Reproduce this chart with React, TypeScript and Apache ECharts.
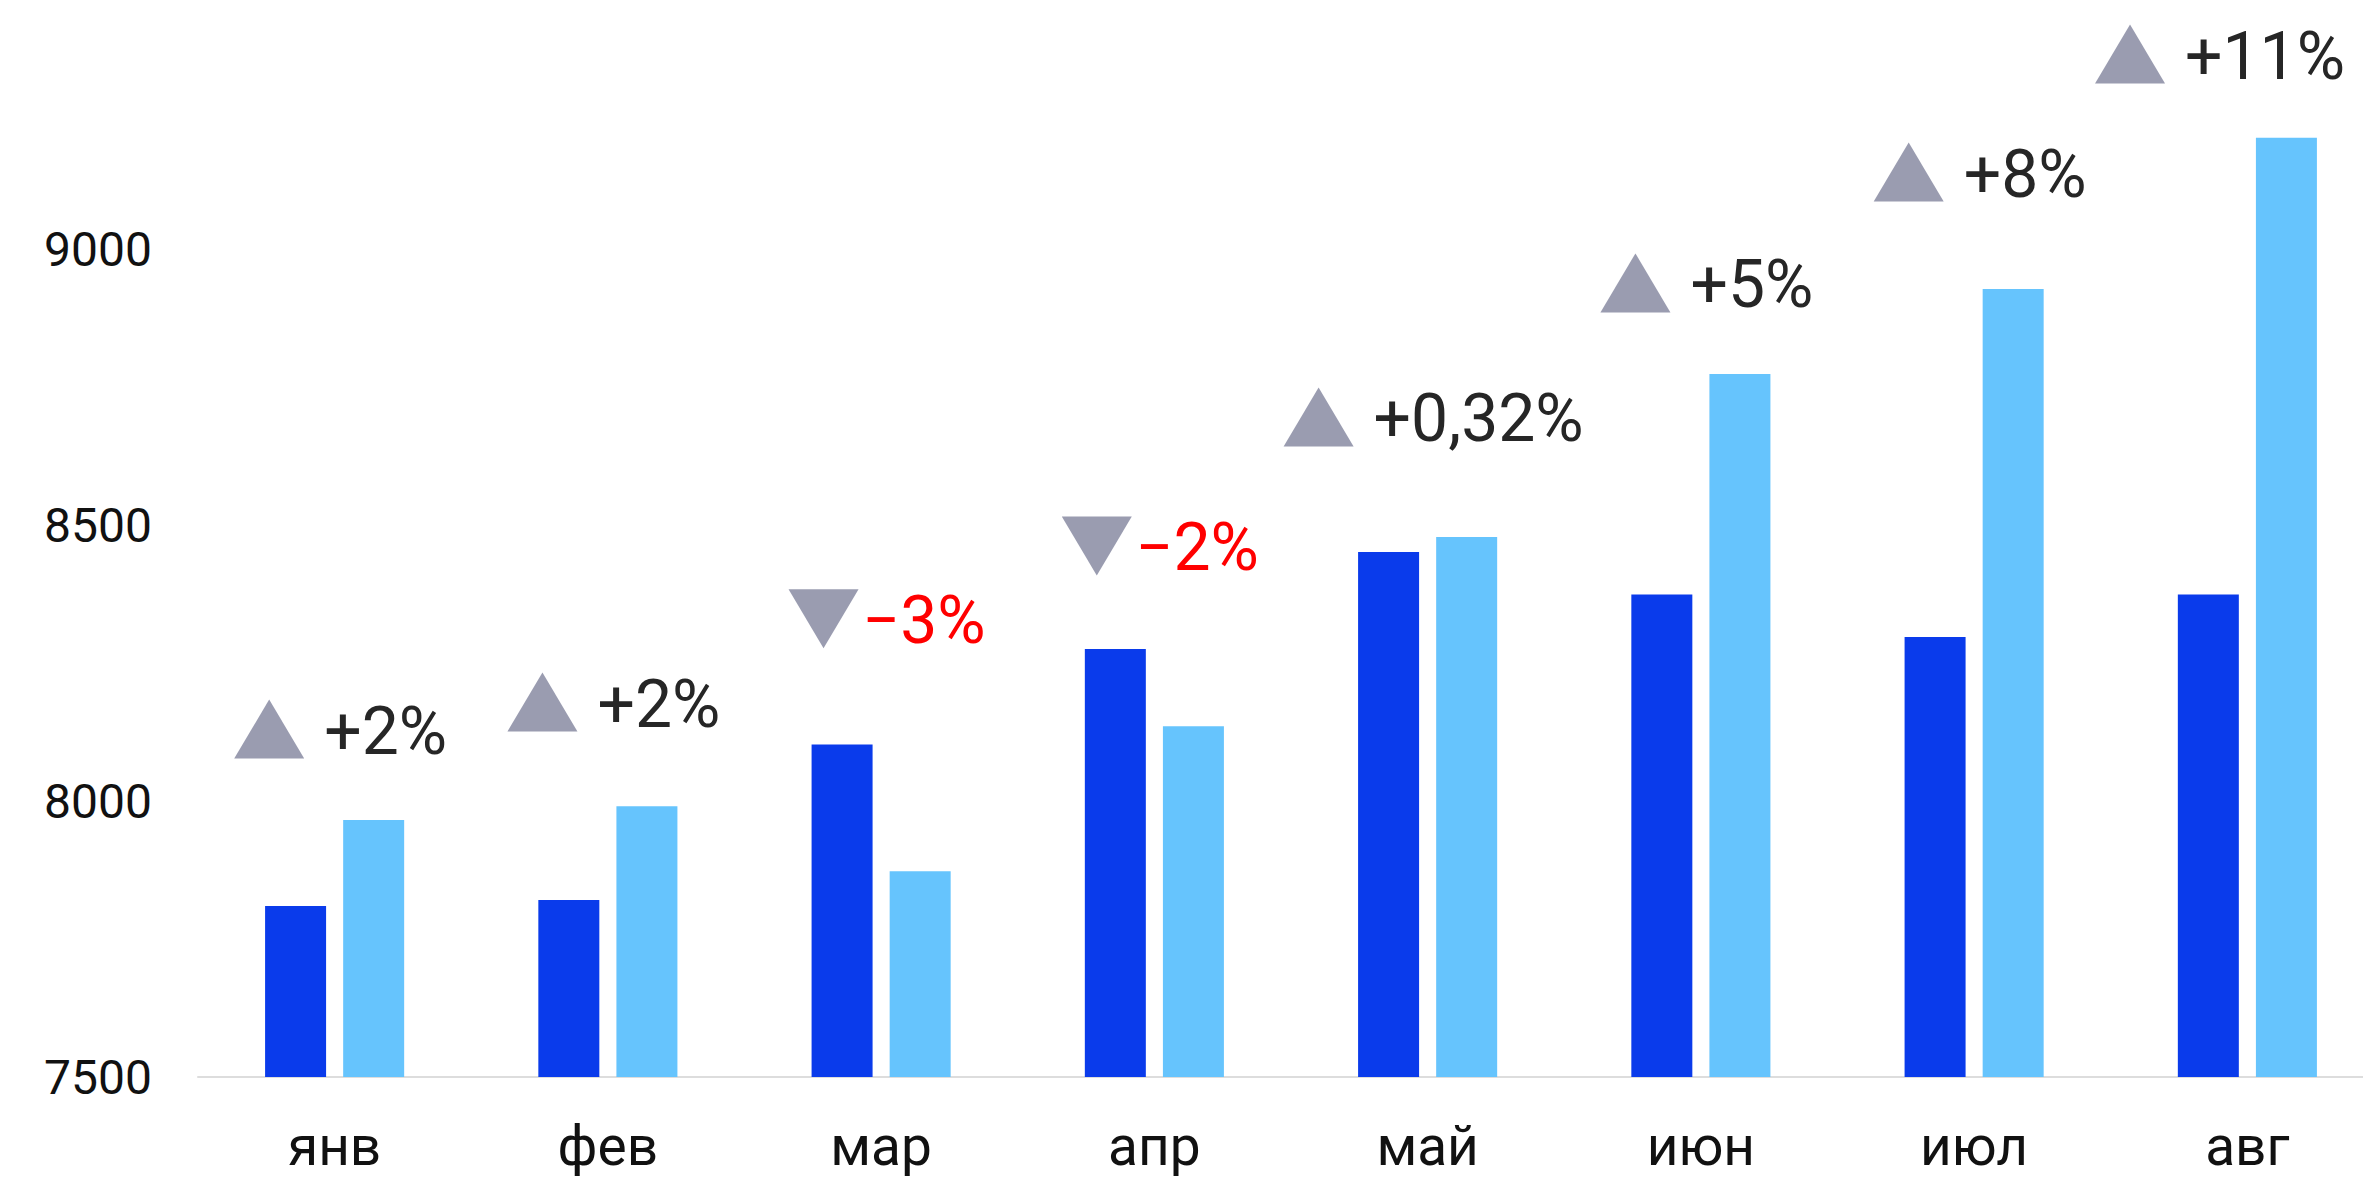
import React, { useEffect, useRef } from "react";
import * as echarts from "echarts";

const months = ["янв", "фев", "мар", "апр", "май", "июн", "июл", "авг"];
const previousYear = [7810, 7821, 8103, 8276, 8452, 8375, 8298, 8375];
const currentYear = [7966, 7991, 7873, 8136, 8479, 8775, 8929, 9203];
const changeLabels = ["+2%", "+2%", "−3%", "−2%", "+0,32%", "+5%", "+8%", "+11%"];
const changeLevels = [8131, 8180, 8331, 8463, 8697, 8940, 9141, 9355];
const yTicks = [7500, 8000, 8500, 9000];

const FONT = "Roboto, 'Liberation Sans', sans-serif";
const ANN_FS = 66;

export default function App() {
  const ref = useRef<HTMLDivElement>(null);
  useEffect(() => {
    if (!ref.current) return;
    const chart = echarts.init(ref.current, undefined, { renderer: "svg" });
    const canvas = document.createElement("canvas");
    const ctx = canvas.getContext("2d")!;
    ctx.font = `${ANN_FS}px ${FONT}`;

    const option: any = {
      animation: false,
      backgroundColor: "#ffffff",
      grid: {
        left: 198,
        top: 0,
        width: 2186,
        height: 1077,
        containLabel: false,
        outerBoundsMode: "none",
      },
      xAxis: {
        type: "category",
        data: months,
        axisLine: { show: true, lineStyle: { color: "#DDDDDD", width: 2 } },
        axisTick: { show: false },
        axisLabel: { fontFamily: FONT, fontSize: 55, color: "#111111", margin: 41 },
      },
      yAxis: {
        type: "value",
        min: yTicks[0],
        max: 9453,
        interval: yTicks[1] - yTicks[0],
        axisLine: { show: false },
        axisTick: { show: false },
        splitLine: { show: false },
        axisLabel: {
          fontFamily: FONT,
          fontSize: 48,
          color: "#111111",
          margin: 46,
          showMaxLabel: false,
          formatter: (v: number) => (yTicks.includes(v) ? String(v) : ""),
        },
      },
      series: [
        {
          type: "bar",
          data: previousYear,
          barWidth: 61,
          barGap: "28%",
          itemStyle: { color: "#0A3BEB" },
        },
        {
          type: "bar",
          data: currentYear,
          barWidth: 61,
          itemStyle: { color: "#66C4FD" },
        },
        {
          type: "custom",
          data: changeLevels.map((v, i) => [i, v]),
          renderItem: (params: any, api: any) => {
            const idx = params.dataIndex;
            const pt = api.coord([api.value(0), api.value(1)]);
            const cx = pt[0];
            const cy = pt[1];
            const label = changeLabels[idx];
            const up = !label.startsWith("−");
            const tw = ctx.measureText(label).width;
            const triW = 70;
            const triH = 59;
            const gap = up ? 20 : 4;
            const total = triW + gap + tw;
            const maxRight = api.getWidth() - 18;
            const left = Math.min(cx - total / 2 + 6, maxRight - total);
            const pts = up
              ? [
                  [left, cy + triH / 2],
                  [left + triW / 2, cy - triH / 2],
                  [left + triW, cy + triH / 2],
                ]
              : [
                  [left, cy - triH / 2],
                  [left + triW, cy - triH / 2],
                  [left + triW / 2, cy + triH / 2],
                ];
            return {
              type: "group",
              children: [
                { type: "polygon", shape: { points: pts }, style: { fill: "#9A9CB0" } },
                {
                  type: "text",
                  x: left + triW + gap,
                  y: cy + 2,
                  style: {
                    text: label,
                    fill: up ? "#262626" : "#FF0000",
                    font: `${ANN_FS}px ${FONT}`,
                    align: "left",
                    verticalAlign: "middle",
                  },
                },
              ],
            };
          },
        },
      ],
    };
    chart.setOption(option);
    return () => chart.dispose();
  }, []);
  return (
    <div
      ref={ref}
      style={{ position: "fixed", left: 0, top: 0, width: 2363, height: 1180, background: "#fff" }}
    />
  );
}
